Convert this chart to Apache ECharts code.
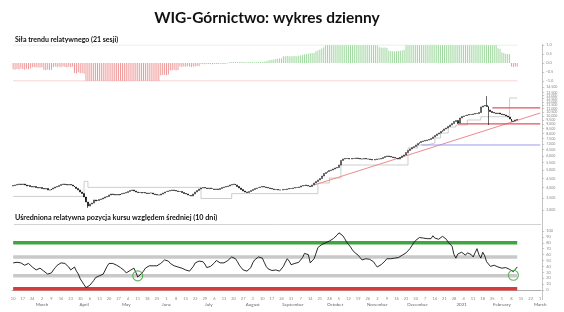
<!DOCTYPE html>
<html><head><meta charset="utf-8">
<script src="https://cdn.jsdelivr.net/npm/echarts@6/dist/echarts.min.js"></script>
<style>html,body{margin:0;padding:0;background:#fff}#c{width:564px;height:312px}</style>
</head><body><div id="c"></div>
<script>
// ---------- data ----------
const startDate = [2020, 1, 10];
const totalSlots = 276;
const monthNames = ['2021','February','March','April','May','June','July','August','September','October','November','December'];

const trendStrength = [
-0.35,-0.38,-0.33,-0.36,-0.30,-0.34,-0.37,-0.32,-0.35,-0.31,
-0.24,-0.22,-0.25,-0.23,-0.26,-0.24,
-0.38,-0.40,-0.36,-0.39,-0.37,
-0.22,-0.2,-0.24,-0.21,-0.23,-0.2,-0.22,-0.25,-0.21,-0.23,-0.2,
-0.55,-0.58,-0.52,-0.57,-0.55,-0.6,
-1,-1,-1,-1,-1,-1,-1,-1,-1,-1,-1,-1,-1,-1,-1,-1,-1,-1,-1,-1,-1,-1,-1,-1,-1,-1,-1,-1,-1,-1,-1,-1,-1,-1,-1,-1,-1,-1,-1,
-0.7,-0.67,-0.65,-0.68,-0.64,
-0.42,-0.4,-0.38,-0.41,-0.39,
-0.2,-0.22,-0.19,-0.21,-0.18,-0.2,-0.22,-0.19,-0.2,-0.17,-0.18,
-0.06,-0.05,-0.07,-0.06,-0.05,-0.06,-0.07,-0.05,-0.06,-0.05,-0.04,-0.06,-0.05,-0.04,-0.03,
0.05,0.06,0.07,0.06,0.05,0.06,0.07,0.06,0.05,0.04,0.05,0.06,0.05,0.04,0.05,0.06,0.07,0.06,0.08,0.1,
0.14,0.16,0.18,0.2,0.22,0.24,0.26,0.27,
0.37,0.38,0.39,0.38,0.37,0.38,0.39,0.38,0.4,0.42,
0.45,0.47,0.5,0.52,0.54,0.55,0.56,
0.65,0.7,0.75,0.8,0.88,
1,1,1,1,1,1,1,1,1,1,1,1,1,1,1,1,1,1,1,1,1,1,1,1,1,1,1,1,
0.87,0.86,0.85,0.86,0.84,
0.68,0.66,0.65,0.64,0.65,0.66,0.68,0.7,0.72,
1,1,1,1,1,1,1,1,1,1,1,1,1,1,1,1,1,1,1,1,1,1,1,1,1,1,1,1,1,1,1,1,1,1,1,1,1,1,1,1,1,1,1,1,1,1,1,1,
0.82,0.78,
0.58,0.55,0.52,0.5,0.48,
-0.2,-0.22,-0.2,-0.21];

const closes = [
4105,4132,4158,4185,4158,4185,4132,4079,4105,4053,
4027,4053,4001,3976,4001,3951,3926,3951,3876,3876,
3926,3976,4027,4053,4105,4158,4185,4158,4132,4158,
4132,4079,4027,3951,3876,3777,3705,3543,3324,3158,
3240,3281,3410,3366,3388,3432,3454,3498,3543,3566,
3635,3682,3658,3635,3658,3635,3682,3705,3729,3753,
3801,3851,3876,3826,3777,3753,3753,3729,3753,3729,
3705,3729,3729,3682,3658,3635,3635,3682,3729,3777,
3801,3826,3851,3876,3851,3826,3801,3801,3753,3705,
3682,3635,3612,3589,3682,3777,3851,3926,3976,4001,
3976,3951,3976,3951,3926,3901,3926,3901,3951,4001,
4027,4053,4079,4132,4158,4185,4132,4053,3976,3901,
3826,3777,3753,3801,3851,3901,3951,3976,4001,4027,
4053,4027,4001,3976,3951,3926,3901,3901,3876,3876,
3876,3901,3901,3926,3951,3951,3976,4001,4001,4027,
4079,4105,4132,4105,4079,4053,4132,4239,4321,4406,
4491,4637,4788,4850,4912,4976,5008,5072,5138,5171,
5339,5656,5766,5803,5803,5766,5766,5803,5803,5840,
5803,5766,5766,5803,5766,5766,5729,5692,5692,5729,
5766,5766,5803,5878,5953,5992,5953,5915,5878,5840,
5803,5766,5878,5992,6069,6267,6429,6554,6681,6767,
6898,7032,7122,7214,7260,7307,7354,7401,7497,7642,
7790,7941,8043,8200,8305,8466,8576,8742,8912,9085,
9320,9440,9143,9747,9936,10000,10065,10129,10194,10194,
10259,10325,10325,10459,11222,11366,11440,11294,10799,10593,
10459,10392,10325,10392,10259,10194,10129,10000,9873,9623,
9320,9380,9501,9560];

const opens = [
4080,4105,4132,4158,4185,4158,4185,4132,4079,4105,
4053,4027,4053,4001,3976,4001,3951,3926,3951,3876,
3876,3926,3976,4027,4053,4105,4158,4185,4158,4132,
4158,4132,4079,4027,3951,3876,3777,3705,3543,3324,
3158,3240,3281,3410,3366,3388,3432,3454,3498,3543,
3566,3635,3682,3658,3635,3658,3635,3682,3705,3729,
3753,3801,3851,3876,3826,3777,3753,3753,3729,3753,
3729,3705,3729,3729,3682,3658,3635,3635,3682,3729,
3777,3801,3826,3851,3876,3851,3826,3801,3801,3753,
3705,3682,3635,3612,3589,3682,3777,3851,3926,3976,
4001,3976,3951,3976,3951,3926,3901,3926,3901,3951,
4001,4027,4053,4079,4132,4158,4185,4132,4053,3976,
3901,3826,3777,3753,3801,3851,3901,3951,3976,4001,
4027,4053,4027,4001,3976,3951,3926,3901,3901,3876,
3876,3876,3901,3901,3926,3951,3951,3976,4001,4001,
4027,4079,4105,4132,4105,4079,4053,4132,4239,4321,
4406,4491,4637,4788,4850,4912,4976,5008,5072,5138,
5171,5339,5656,5766,5803,5803,5766,5766,5803,5803,
5840,5803,5766,5766,5803,5766,5766,5729,5692,5692,
5729,5766,5766,5803,5878,5953,5992,5953,5915,5878,
5840,5803,5766,5878,5992,6069,6267,6429,6554,6681,
6767,6898,7032,7122,7214,7260,7307,7354,7401,7497,
7642,7790,7941,8043,8200,8305,8466,8576,8742,8912,
9085,9320,9440,9143,9747,9936,10000,10065,10129,10194,
10194,10259,10325,10325,10459,11222,11366,11440,11294,10799,
10593,10459,10392,10325,10392,10259,10194,10129,10000,9873,
9623,9320,9380,9501];

const highWicks = [[38,3420],[247,12900]];
const lowWicks = [[39,3080],[232,9030],[248,8912]];

const stopSteps = [[0,3570],[37,4330],[39,4010],[98,3476],[114,3700],[159,4239],[165,4520],[171,5339],[206,6638],[211,6898],[216,7077],[220,7545],[223,8043],[227,8686],[231,8912],[237,9500],[244,9910],[259,12590],[263,12590]];
const trendLinePts = [[157,4132],[275,10392]];
const redLevels = [[250,11094],[232,9040]];
const blueLevel = [213,6898];
const axisEnd = 275;

const priceTicks = [3000,3500,4000,4500,5000,5500,6000,6500,7000,7500,8000,8500,9000,9500,10000,10500,11000,11500,12000,12500,13000,13500,14000,14500];

const oscillator = [
46,45,47,48,46,43,42,44,45,43,
39,36,34,35,37,36,32,29,27,25,
29,34,38,42,45,46,47,45,43,39,
34,37,39,32,27,19,14,9,4,6,
8,12,16,21,23,24,24,27,30,40,
45,47,45,43,42,40,38,36,33,29,
30,33,35,37,30,22,25,28,32,37,
40,41,42,41,39,41,43,45,48,51,
53,49,45,42,41,40,39,38,37,35,
34,33,32,31,40,46,48,49,51,48,
44,38,37,40,43,46,50,49,46,45,
46,48,50,53,56,55,53,48,42,38,
34,33,32,31,38,46,51,54,56,55,
54,47,40,36,34,33,34,34,33,32,
31,40,47,53,49,43,44,45,46,47,
48,55,62,61,60,46,49,53,62,72,
73,77,79,80,80,83,86,87,89,93,
97,99,92,87,81,77,73,68,64,61,
59,55,51,52,53,53,52,51,48,43,
39,41,43,45,49,53,54,53,53,54,
53,55,57,59,61,63,65,70,75,80,
84,87,89,90,88,87,87,88,87,92,
88,85,86,87,91,92,86,81,79,74,
60,54,61,63,64,61,59,63,64,60,
56,63,70,60,54,64,58,48,45,40,
41,42,41,39,38,37,37,38,39,35,
33,31,34,39];
const oscBands = [[80,'#3fa53f'],[56,'#c9c9c9'],[24,'#c9c9c9'],[2,'#d93a3a']];
const oscCircles = [[65,24],[261,25]];

// ---------- categories ----------
const cats = [];
{ const d = new Date(Date.UTC(startDate[0], startDate[1], startDate[2]));
  while (cats.length < totalSlots) {
    const wd = d.getUTCDay();
    if (wd !== 0 && wd !== 6) cats.push(d.toISOString().slice(0,10));
    d.setUTCDate(d.getUTCDate() + 1);
  } }
const isMonday = i => new Date(cats[i]).getUTCDay() === 1;
const isMonthStart = i => i > 0 && cats[i].slice(5,7) !== cats[i-1].slice(5,7);

const N = closes.length;
const candles = closes.map((c, i) => [opens[i], c, Math.min(opens[i], c), Math.max(opens[i], c)]);
highWicks.forEach(([i, v]) => { candles[i][3] = v; });
lowWicks.forEach(([i, v]) => { candles[i][2] = v; });

const LEFT = 12.2, RIGHT = 22.8;
const FONT = 'Lato';
const tinyLabel = { fontSize: 4, color: '#8a8a8a', fontFamily: FONT };

const option = {
  animation: false,
  backgroundColor: '#fff',
  title: {
    text: 'WIG-Górnictwo: wykres dzienny',
    left: 262, top: 5, textAlign: 'center',
    textStyle: { fontFamily: FONT, fontWeight: 'bold', fontSize: 15.5, color: '#111' }
  },
  grid: [
    { left: LEFT, right: RIGHT, top: 45, height: 36 },
    { left: LEFT, right: RIGHT, top: 87, height: 123 },
    { left: LEFT, right: RIGHT, top: 231, height: 59 }
  ],
  xAxis: [
    { type: 'category', gridIndex: 0, data: cats, show: false },
    { type: 'category', gridIndex: 1, data: cats, show: false },
    { type: 'category', gridIndex: 2, data: cats, position: 'bottom', offset: 6,
      axisLine: { lineStyle: { color: '#9a9a9a', width: 0.8 } },
      axisTick: { interval: i => isMonday(i), length: 2, lineStyle: { color: '#9a9a9a', width: 0.6 } },
      axisLabel: Object.assign({ interval: i => isMonday(i), margin: 1, formatter: v => String(+v.slice(8,10)) }, tinyLabel) },
    { type: 'category', gridIndex: 2, data: cats, position: 'bottom', offset: 6,
      axisLine: { show: false }, axisTick: { show: false },
      axisLabel: { interval: i => isMonthStart(i), margin: 6, fontSize: 4.5, color: '#666', fontFamily: FONT,
        formatter: v => monthNames[+v.slice(5,7) - 1] } }
  ],
  yAxis: [
    { type: 'value', gridIndex: 0, position: 'right', offset: 1, min: -1, max: 1, interval: 0.5,
      axisLine: { show: false }, splitLine: { show: false },
      axisTick: { show: true, length: 2, lineStyle: { color: '#aaa', width: 0.6 } },
      axisLabel: Object.assign({ margin: 4, formatter: v => v.toFixed(1) }, tinyLabel) },
    { type: 'log', logBase: 10, gridIndex: 1, position: 'right', offset: 1, min: 3000, max: 14500,
      axisLine: { show: false }, splitLine: { show: false },
      axisTick: { show: true, customValues: priceTicks, length: 2, lineStyle: { color: '#aaa', width: 0.6 } },
      axisLabel: Object.assign({ margin: 4, customValues: priceTicks, showMinLabel: true, showMaxLabel: true }, tinyLabel, { fontSize: 3.6 }) },
    { type: 'value', gridIndex: 2, position: 'right', offset: 1, min: 0, max: 100, interval: 10,
      axisLine: { show: false }, splitLine: { show: false },
      axisTick: { show: true, length: 2, lineStyle: { color: '#aaa', width: 0.6 } },
      axisLabel: Object.assign({ margin: 4 }, tinyLabel) }
  ],
  graphic: [
    { type: 'text', left: 15, top: 36, style: { text: 'Siła trendu relatywnego (21 sesji)', font: 'bold 7px Lato', fill: '#111' } },
    { type: 'text', left: 15, top: 214, style: { text: 'Uśredniona relatywna pozycja kursu względem średniej (10 dni)', font: 'bold 7.2px Lato', fill: '#111' } },
    { type: 'line', shape: { x1: 14, y1: 224.5, x2: 541, y2: 224.5 }, style: { stroke: '#c8c8c8', lineWidth: 0.8 } },
    { type: 'line', shape: { x1: 542.5, y1: 44, x2: 542.5, y2: 300 }, style: { stroke: '#b5b5b5', lineWidth: 0.8 } }
  ],
  series: [
    { type: 'line', xAxisIndex: 0, yAxisIndex: 0, data: [[0, 1], [N - 1, 1]], symbol: 'none', silent: true,
      lineStyle: { color: '#d6ecd6', width: 0.8 } },
    { type: 'line', xAxisIndex: 0, yAxisIndex: 0, data: [[0, -1], [N - 1, -1]], symbol: 'none', silent: true,
      lineStyle: { color: '#f5b3b3', width: 0.8 } },
    { type: 'bar', xAxisIndex: 0, yAxisIndex: 0, data: trendStrength, barWidth: 1,
      itemStyle: { color: p => p.value >= 0 ? '#9fd79f' : '#f09a9a' } },

    { type: 'line', xAxisIndex: 1, yAxisIndex: 1, data: stopSteps, step: 'end', symbol: 'none',
      lineStyle: { color: '#b8b8b8', width: 0.7 }, z: 1 },
    { type: 'line', xAxisIndex: 1, yAxisIndex: 1, data: trendLinePts, symbol: 'none',
      lineStyle: { color: '#ee8a8a', width: 1 }, z: 1 },
    ...redLevels.map(([s, v]) => ({ type: 'line', xAxisIndex: 1, yAxisIndex: 1, data: [[s, v], [axisEnd, v]], symbol: 'none',
      lineStyle: { color: '#e2525a', width: 1.1 }, z: 1 })),
    { type: 'line', xAxisIndex: 1, yAxisIndex: 1, data: [[blueLevel[0], blueLevel[1]], [axisEnd, blueLevel[1]]], symbol: 'none',
      lineStyle: { color: '#9c9cf0', width: 1 }, z: 1 },
    { type: 'candlestick', xAxisIndex: 1, yAxisIndex: 1, data: candles, barWidth: 1.4, z: 3,
      itemStyle: { color: '#ffffff', color0: '#000000', borderColor: '#000000', borderColor0: '#000000', borderWidth: 0.6 } },

    ...oscBands.map(([v, c]) => ({ type: 'line', xAxisIndex: 2, yAxisIndex: 2, data: [[0, v], [N - 1, v]], symbol: 'none', silent: true,
      lineStyle: { color: c, width: 3.5 }, z: 1 })),
    { type: 'line', xAxisIndex: 2, yAxisIndex: 2, data: oscillator, symbol: 'none',
      lineStyle: { color: '#111', width: 0.9 }, z: 3 },
    { type: 'scatter', xAxisIndex: 2, yAxisIndex: 2, data: oscCircles, symbol: 'circle', symbolSize: 10, z: 4,
      itemStyle: { color: 'rgba(0,0,0,0)', borderColor: '#36a836', borderWidth: 1.1 } }
  ]
};
const chart = echarts.init(document.getElementById('c'), null, { renderer: 'canvas' });
chart.setOption(option);
</script>
</body></html>
